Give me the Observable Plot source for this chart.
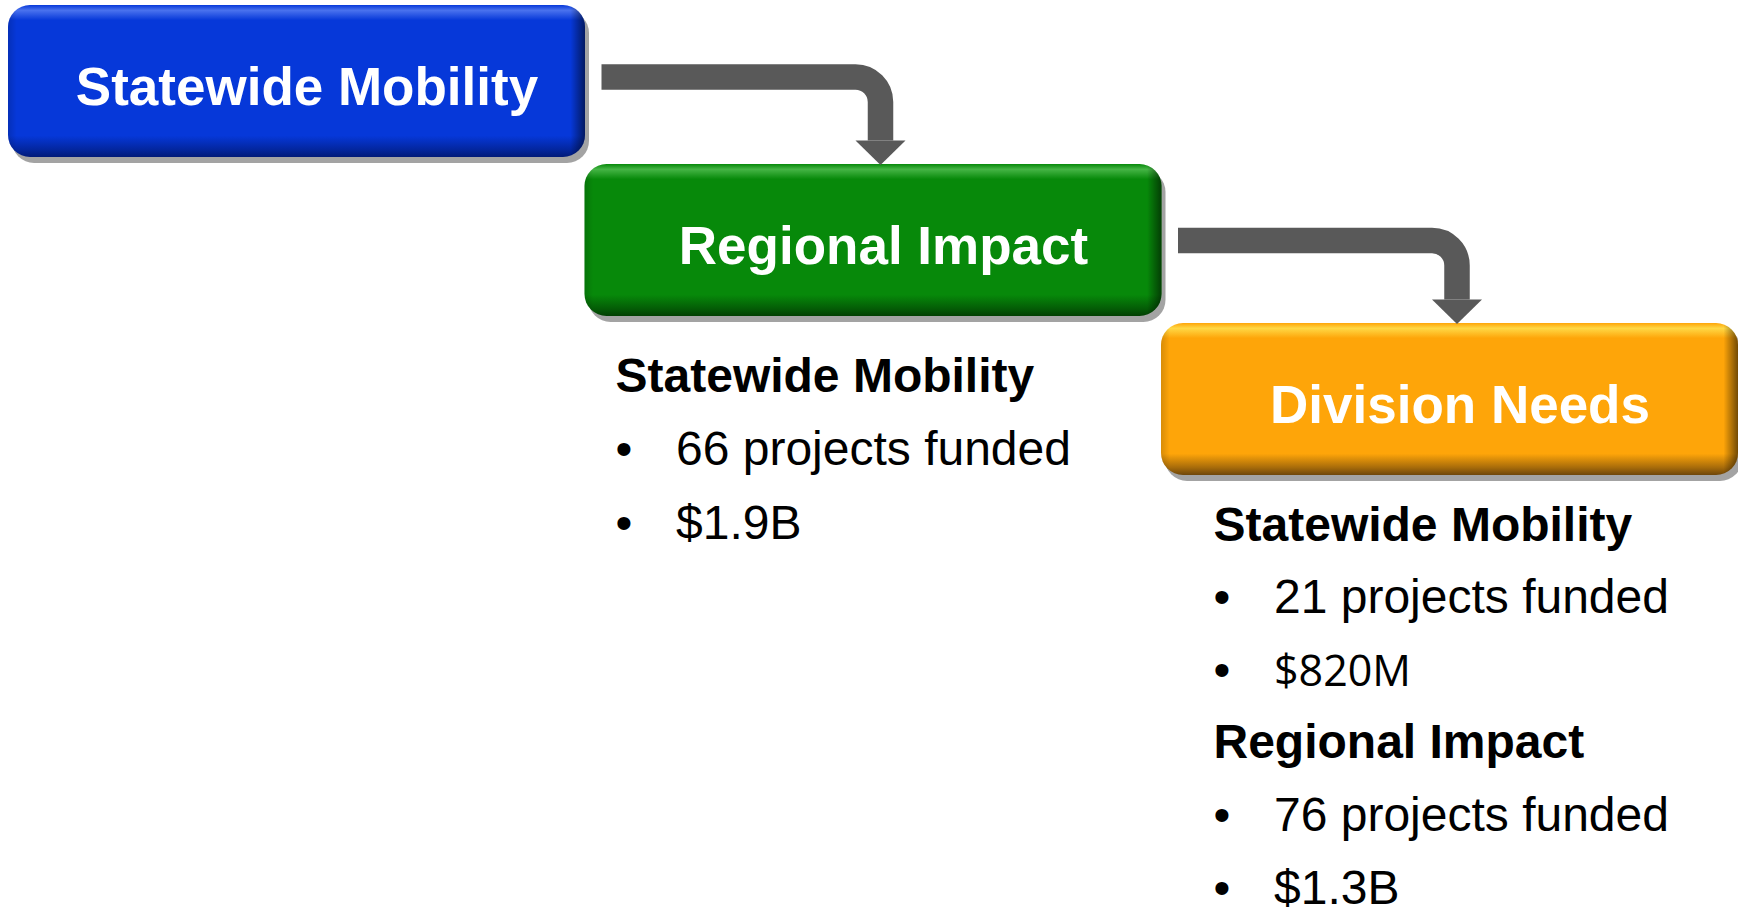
<!DOCTYPE html>
<html>
<head>
<meta charset="utf-8">
<script src="https://cdn.jsdelivr.net/npm/d3@7"></script>
<script src="https://cdn.jsdelivr.net/npm/@observablehq/plot@0.6"></script>
<style>
  html, body { margin: 0; padding: 0; background: #ffffff; overflow: hidden; }
  #chart svg { display: block; }
</style>
</head>
<body>
<div id="chart"></div>
<script>
// ---------------- DATA ----------------
const stages = ["Statewide Mobility", "Regional Impact", "Division Needs"];
const fundingSource = ["Statewide Mobility", "Statewide Mobility", "Regional Impact"];
const fundingTarget = ["Regional Impact", "Division Needs", "Division Needs"];
const projectsFunded = [66, 21, 76];
const amountFunded = ["$1.9B", "$820M", "$1.3B"];

// ---------------- STYLE / LAYOUT ----------------
const W = 1738, H = 916;
const stageFill  = ["#0638d9", "#07890a", "#fea509"];
const stageLight = ["#4a72ee", "#45b545", "#ffd845"];
const stageDark  = ["#011a78", "#023f03", "#6e460a"];
const arrowColor = "#595959";
const sans = "'Liberation Sans', Arial, Helvetica, sans-serif";
const amountFont = ["'Liberation Sans', Arial, sans-serif", "'Open Sans', 'Noto Sans', sans-serif", "'Liberation Sans', Arial, sans-serif"];
const amountSize = [48, 43, 48];

const boxGeom = {x0: 8, y0: 5, dx: 576.5, dy: 159, w: 577, h: 152, r: 22};
const arrowBarY = [76.5, 240];
const panelLeft = [null, 615, 1213];
const panelBaseline = [null, 391, 540];
const lineStep = [null, 73.5, 72.6];
const bulletIndent = 60.5;

const boxes = stages.map((name, i) => {
  const x1 = boxGeom.x0 + boxGeom.dx * i, y1 = boxGeom.y0 + boxGeom.dy * i;
  return {i, name, x1, x2: x1 + boxGeom.w, y1, y2: y1 + boxGeom.h};
});

// arrows between consecutive stages
const arrowPts = [], arrowHeads = [];
for (let i = 0; i < boxes.length - 1; i++) {
  const a = boxes[i], b = boxes[i + 1];
  const vx = (b.x1 + b.x2) / 2 + 7;
  const headBase = b.y1 - 24;
  arrowPts.push({a: i, x: a.x2 + 16, y: arrowBarY[i]});
  arrowPts.push({a: i, x: vx, y: arrowBarY[i]});
  arrowPts.push({a: i, x: vx, y: headBase});
  arrowHeads.push({a: i, x: vx, y: headBase + 12});
}

// text lines below the boxes
const lines = [];
stages.forEach((target, t) => {
  let k = 0;
  fundingTarget.forEach((tg, j) => {
    if (tg !== target) return;
    lines.push({t, k: k++, j, kind: "heading", text: fundingSource[j]});
    lines.push({t, k: k++, j, kind: "projects", text: `${projectsFunded[j]} projects funded`});
    lines.push({t, k: k++, j, kind: "amount", text: amountFunded[j]});
  });
});
lines.forEach(d => {
  d.y = panelBaseline[d.t] + d.k * lineStep[d.t];
  d.x = panelLeft[d.t] + (d.kind === "heading" ? 0 : bulletIndent);
});
const headings = lines.filter(d => d.kind === "heading");
const projectLines = lines.filter(d => d.kind === "projects");
const amountLines = lines.filter(d => d.kind === "amount");
const bullets = lines.filter(d => d.kind !== "heading").map(d => ({x: panelLeft[d.t], y: d.y}));

// custom curve: straight segments joined by circular arcs
function roundedCorners(radius) {
  return function(context) {
    let pts = [];
    return {
      areaStart() {}, areaEnd() {},
      lineStart() { pts = []; },
      point(x, y) { pts.push([+x, +y]); },
      lineEnd() {
        if (!pts.length) return;
        context.moveTo(pts[0][0], pts[0][1]);
        for (let k = 1; k < pts.length - 1; k++) {
          context.arcTo(pts[k][0], pts[k][1], pts[k + 1][0], pts[k + 1][1], radius);
        }
        const last = pts[pts.length - 1];
        context.lineTo(last[0], last[1]);
      }
    };
  };
}
// wide downward triangle for arrow heads
const headSymbol = {
  draw(context) {
    context.moveTo(-25, -12);
    context.lineTo(25, -12);
    context.lineTo(0, 12.5);
    context.closePath();
  }
};

const marks = [];
// shadows
marks.push(Plot.rect(boxes, {
  x1: d => d.x1 + 4, x2: d => d.x2 + 4, y1: d => d.y1 + 6, y2: d => d.y2 + 6,
  rx: boxGeom.r, fill: "#000", fillOpacity: 0.36, ariaLabel: "box-shadow"
}));
// boxes with vertical bevel gradient
boxes.forEach((b, i) => {
  marks.push(Plot.rect([b], {x1: "x1", x2: "x2", y1: "y1", y2: "y2", rx: boxGeom.r, fill: `url(#bevel${i})`}));
});
// horizontal edge shading
marks.push(Plot.rect(boxes, {x1: "x1", x2: "x2", y1: "y1", y2: "y2", rx: boxGeom.r, fill: "url(#edgeH)"}));
// box titles
marks.push(Plot.text(boxes, {
  x: d => (d.x1 + d.x2) / 2 + 10, y: d => d.y1 + 99, text: "name",
  fill: "white", fontSize: 53, fontWeight: "bold", fontFamily: sans,
  textAnchor: "middle", lineAnchor: "bottom", ariaLabel: "box-title"
}));
// arrows
marks.push(Plot.line(arrowPts, {
  x: "x", y: "y", z: "a", stroke: arrowColor, strokeWidth: 25.5,
  strokeLinecap: "butt", curve: roundedCorners(25)
}));
marks.push(Plot.dot(arrowHeads, {x: "x", y: "y", symbol: headSymbol, r: 10, fill: arrowColor, stroke: "none"}));
// body text
marks.push(Plot.text(headings, {
  x: "x", y: "y", text: "text", fill: "black", fontSize: 48, fontWeight: "bold",
  fontFamily: sans, textAnchor: "start", lineAnchor: "bottom", ariaLabel: "body-text"
}));
marks.push(Plot.text(projectLines, {
  x: "x", y: "y", text: "text", fill: "black", fontSize: 48, fontWeight: "normal",
  fontFamily: sans, textAnchor: "start", lineAnchor: "bottom", ariaLabel: "body-text"
}));
amountLines.forEach(d => {
  marks.push(Plot.text([d], {
    x: "x", y: "y", text: "text", fill: "black", fontSize: amountSize[d.j], fontWeight: "normal",
    fontFamily: amountFont[d.j], textAnchor: "start", lineAnchor: "bottom", ariaLabel: "body-text"
  }));
});
marks.push(Plot.text(bullets, {
  x: "x", y: "y", text: () => "\u2022", fill: "black", fontSize: 48,
  fontFamily: sans, textAnchor: "start", lineAnchor: "bottom", ariaLabel: "body-text"
}));

const svg = Plot.plot({
  width: W, height: H, margin: 0,
  x: {type: "linear", domain: [0, W], range: [0, W], axis: null},
  y: {type: "linear", domain: [0, H], range: [0, H], axis: null},
  style: {background: "white", overflow: "visible"},
  marks
});

// defs: gradients and blur filter
const s = d3.select(svg);
const defs = s.insert("defs", ":first-child");
stages.forEach((_, i) => {
  const g = defs.append("linearGradient").attr("id", `bevel${i}`)
    .attr("x1", 0).attr("y1", 0).attr("x2", 0).attr("y2", 1);
  [[0, stageFill[i]], [0.035, stageLight[i]], [0.1, stageFill[i]], [0.86, stageFill[i]],
   [0.95, d3.interpolateRgb(stageFill[i], stageDark[i])(0.6)], [1, stageDark[i]]]
    .forEach(([o, c]) => g.append("stop").attr("offset", o).attr("stop-color", c));
});
const gh = defs.append("linearGradient").attr("id", "edgeH").attr("x1", 0).attr("y1", 0).attr("x2", 1).attr("y2", 0);
[[0, 0.15], [0.015, 0], [0.975, 0], [1, 0.55]].forEach(([o, a]) =>
  gh.append("stop").attr("offset", o).attr("stop-color", "#000").attr("stop-opacity", a));
defs.append("filter").attr("id", "softShadow").attr("x", "-10%").attr("y", "-20%").attr("width", "120%").attr("height", "140%")
  .append("feGaussianBlur").attr("stdDeviation", 4.5);
s.selectAll('g[aria-label="box-shadow"]').attr("filter", "url(#softShadow)");

// slight vertical stretch of the lettering, as in the original slide
s.selectAll('g[aria-label="box-title"] text').each(function() {
  this.setAttribute("transform", (this.getAttribute("transform") || "") + " scale(1,1.08)");
});
s.selectAll('g[aria-label="body-text"] text').each(function() {
  this.setAttribute("transform", (this.getAttribute("transform") || "") + " scale(1,1.05)");
});

document.getElementById("chart").appendChild(svg);
</script>
</body>
</html>
